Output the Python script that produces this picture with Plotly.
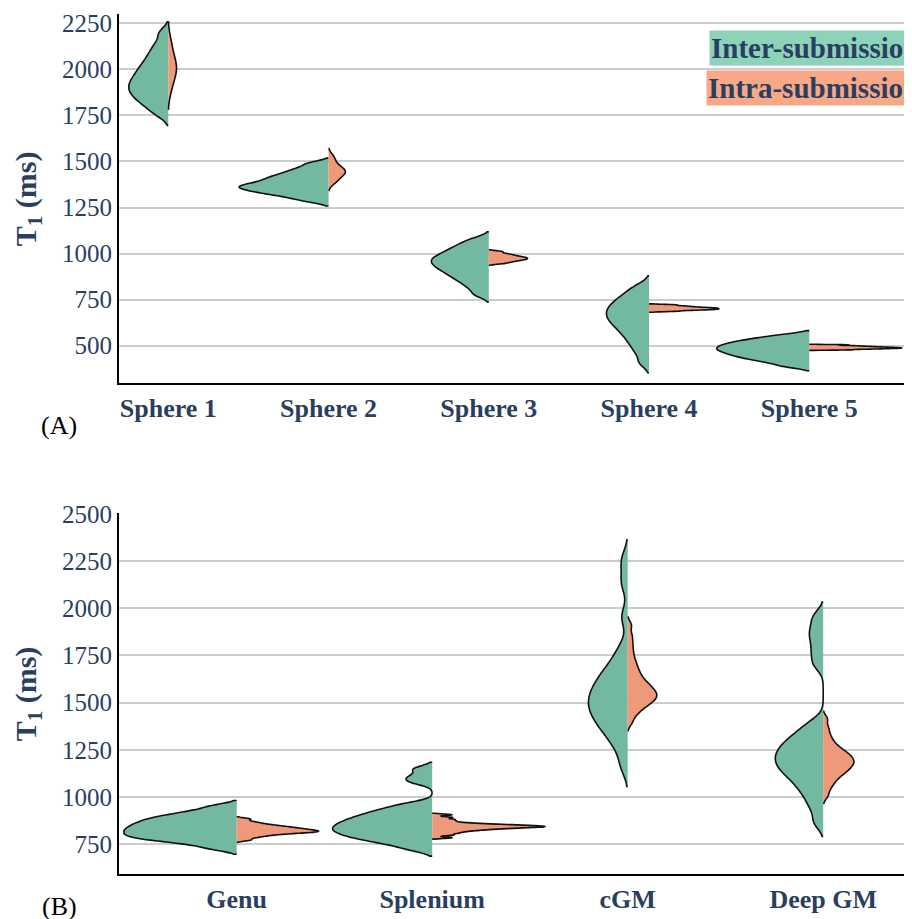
import math
import plotly.graph_objects as go

# ---------------- categories ----------------
spheres = ["Sphere 1", "Sphere 2", "Sphere 3", "Sphere 4", "Sphere 5"]
regions = ["Genu", "Splenium", "cGM", "Deep GM"]

# ---------------- panel A samples: T1 (ms) ----------------
inter_sphere1 = [1756, 1791, 1816, 1836, 1853, 1870, 1885, 1900, 1915, 1930,
                 1946, 1963, 1981, 2000, 2021, 2044, 2071, 2102, 2140, 2198]
intra_sphere1 = [1880, 1920, 1950, 1972, 1993, 2005, 2017, 2033, 2055, 2082, 2118, 2162]

inter_sphere2 = [1286, 1305, 1318, 1328, 1336, 1344, 1351, 1358, 1364, 1370,
                 1377, 1385, 1394, 1403, 1413, 1423, 1435, 1449, 1466, 1490]
intra_sphere2 = [1383, 1402, 1417, 1430, 1440, 1447, 1455, 1465, 1481, 1503, 1530]

inter_sphere3 = [778, 813, 839, 859, 876, 891, 905, 917, 929, 940,
                 950, 961, 971, 981, 993, 1005, 1019, 1035, 1053, 1078]
intra_sphere3 = [947, 955, 961, 966, 970, 974, 978, 982, 987, 993, 1000, 1011]

inter_sphere4 = [409, 463, 500, 530, 555, 577, 597, 614, 630, 645,
                 659, 673, 687, 701, 716, 731, 748, 768, 791, 823]
intra_sphere4 = [687, 692, 695, 697.5, 699.5, 702, 704, 706.5, 709, 712.5, 716.5, 722]

inter_sphere5 = [388, 407, 420, 430, 439, 447, 455, 462, 469, 476,
                 482, 489, 495, 502, 509, 516, 524, 533, 543, 558]
intra_sphere5 = [477.7, 481.2, 483.5, 485.5, 487.1, 488.8, 490.6, 492.5, 494.7, 497.2, 500.3, 504.8]

# ---------------- panel B samples: T1 (ms) ----------------
inter_genu = [727, 750, 763, 773, 781, 788, 795, 802, 809, 816, 823, 830,
              837, 844, 852, 859, 867, 875, 884, 892, 902, 914, 928, 952]
intra_genu = [773, 786, 794, 800, 805, 808.5, 811.5, 814, 816, 818.5, 820.5, 823,
              825.5, 828, 831, 834, 837, 840.5, 844, 848.5, 853.5, 860, 869, 883.5]

inter_splenium = [723, 748, 763, 775, 785, 794, 803, 811, 819, 827, 835, 842, 850,
                  859, 867, 875, 885, 894, 905, 916, 929, 944, 965, 1080, 1108, 1148]
intra_splenium = [785, 799, 808, 815, 821, 825, 829, 832, 834.5, 837, 839, 841, 842.5,
                  844, 845.5, 847.5, 849.5, 851.5, 853.5, 856.5, 860, 865, 873, 881.5, 892, 906]

inter_cgm = [1165, 1255, 1306, 1342, 1371, 1396, 1419, 1441, 1461, 1480, 1499, 1518,
             1538, 1558, 1579, 1601, 1626, 1653, 1684, 1724, 1790, 1954, 2135, 2252]
intra_cgm = [1396, 1431, 1450, 1466, 1478, 1488, 1497, 1505, 1512, 1519, 1526, 1532,
             1539, 1545, 1552, 1558, 1565, 1573, 1581, 1589, 1598, 1607, 1618, 1630,
             1644, 1660, 1676, 1696, 1718, 1745, 1779, 1816, 1856, 1909]

inter_deepgm = [868, 942, 992, 1031, 1062, 1089, 1112, 1132, 1150, 1166, 1183, 1199, 1215,
                1231, 1247, 1265, 1283, 1303, 1326, 1354, 1394, 1705, 1772, 1837, 1891, 1956]
intra_deepgm = [1006, 1041, 1065, 1082, 1097, 1110, 1121, 1130, 1138, 1146, 1153, 1161,
                1167, 1174, 1180, 1186, 1192, 1198, 1205, 1212, 1218, 1226, 1233, 1241,
                1250, 1261, 1275, 1290, 1310, 1336, 1369, 1414]

inter_A = [inter_sphere1, inter_sphere2, inter_sphere3, inter_sphere4, inter_sphere5]
intra_A = [intra_sphere1, intra_sphere2, intra_sphere3, intra_sphere4, intra_sphere5]
inter_B = [inter_genu, inter_splenium, inter_cgm, inter_deepgm]
intra_B = [intra_genu, intra_splenium, intra_cgm, intra_deepgm]

# KDE bandwidths (ms)
bw_inter_A = [30, 14, 20, 28, 12]
bw_intra_A = [48, 20, 5, 2.5, 1.6]
bw_inter_B = [15, 18, 55, 38]
bw_intra_B = [6, 4, 22, 20]

y_ticks_A = [500, 750, 1000, 1250, 1500, 1750, 2000, 2250]
y_ticks_B = [750, 1000, 1250, 1500, 1750, 2000, 2250, 2500]

# ---------------- styling ----------------
GREEN = "#72b9a0"
ORANGE = "#ee9a7a"
LEG_GREEN = "#8cd3ba"
LEG_ORANGE = "#f8a886"
NAVY = "#2a3f5f"
OUTLINE = "#111111"
SERIF = "Liberation Serif"
FULL_WIDTH = 1.155   # widest violin of each group spans this many category units


def kde_peak(samples, bw):
    """Peak of the Gaussian KDE (same estimator the violin trace draws)."""
    lo, hi = min(samples) - 2 * bw, max(samples) + 2 * bw
    n = len(samples)
    norm = n * bw * math.sqrt(2 * math.pi)
    best = 0.0
    steps = 800
    for k in range(steps + 1):
        v = lo + (hi - lo) * k / steps
        d = sum(math.exp(-0.5 * ((v - s) / bw) ** 2) for s in samples) / norm
        best = max(best, d)
    return best


def group_widths(groups, bws, by_count):
    """Scale violins of one group against each other (like a shared scalegroup)."""
    metric = []
    for s, bw in zip(groups, bws):
        m = kde_peak(s, bw)
        if by_count:
            m *= len(s)
        metric.append(m)
    top = max(metric)
    return [FULL_WIDTH * m / top for m in metric]


fig = go.Figure()


def add_violin(cat, samples, side, color, bw, width, xa, ya):
    fig.add_trace(go.Violin(
        x=[cat] * len(samples), y=samples, side=side,
        fillcolor=color, line=dict(color=OUTLINE, width=1.6),
        bandwidth=bw, width=width, spanmode="soft",
        points=False, box_visible=False, meanline_visible=False,
        showlegend=False, xaxis=xa, yaxis=ya, hoverinfo="skip",
    ))


for cats, inter, intra, bwi, bwo, xa, ya, cnt in [
    (spheres, inter_A, intra_A, bw_inter_A, bw_intra_A, "x", "y", False),
    (regions, inter_B, intra_B, bw_inter_B, bw_intra_B, "x2", "y2", True),
]:
    wi = group_widths(inter, bwi, cnt)
    wo = group_widths(intra, bwo, cnt)
    for c, s, bw, w in zip(cats, inter, bwi, wi):
        add_violin(c, s, "negative", GREEN, bw, w, xa, ya)
    for c, s, bw, w in zip(cats, intra, bwo, wo):
        add_violin(c, s, "positive", ORANGE, bw, w, xa, ya)

H = 919.0
Wd = 912.0
OFF = 8.0  # page offset of the figure inside the browser window
x_dom = [(119 - OFF) / Wd, 1.0]
yA_dom = [1 - (383.3 - OFF) / H, 1 - (14 - OFF) / H]
yB_dom = [1 - (874.3 - OFF) / H, 1 - (513.3 - OFF) / H]
plot_w = Wd * (x_dom[1] - x_dom[0])
spA, spB = 160.25, 195.5
leftA = -(168.3 - 119) / spA
leftB = -(236.7 - 119) / spB

xcommon = dict(
    type="category", showgrid=False, zeroline=False, showline=True,
    linecolor="black", linewidth=2, ticks="", automargin=False,
    tickfont=dict(family=SERIF, size=26, color=NAVY, weight="bold"),
)
ycommon = dict(
    showgrid=True, gridcolor="#cccccc", gridwidth=1.5, zeroline=False,
    showline=True, linecolor="black", linewidth=2, ticks="", automargin=False,
    tickfont=dict(family=SERIF, size=25, color=NAVY),
)

fig.update_layout(
    width=912, height=919,
    margin=dict(l=0, r=0, t=0, b=0, autoexpand=False),
    paper_bgcolor="white", plot_bgcolor="white",
    violinmode="overlay",
    showlegend=False,
    xaxis=dict(xcommon, domain=x_dom, anchor="y", categoryorder="array",
               categoryarray=spheres, range=[leftA, leftA + plot_w / spA]),
    yaxis=dict(ycommon, domain=yA_dom, anchor="x", range=[296, 2300.5],
               tickvals=y_ticks_A),
    xaxis2=dict(xcommon, domain=x_dom, anchor="y2", categoryorder="array",
                categoryarray=regions, range=[leftB, leftB + plot_w / spB]),
    yaxis2=dict(ycommon, domain=yB_dom, anchor="x2", range=[591, 2502.5],
                tickvals=y_ticks_B),
)

ann = []
for yc in [(yA_dom[0] + yA_dom[1]) / 2, (yB_dom[0] + yB_dom[1]) / 2]:
    ann.append(dict(text="T<sub>1</sub> (ms)", xref="paper", yref="paper",
                    x=(27.5 - OFF) / Wd, y=yc, xanchor="center", yanchor="middle",
                    textangle=-90, showarrow=False,
                    font=dict(family=SERIF, size=30, color=NAVY, weight="bold")))
ann.append(dict(text="Inter-submission", xref="paper", yref="paper",
                x=(709 - OFF) / Wd, y=1 - (47.5 - OFF) / H, xanchor="left", yanchor="middle",
                showarrow=False, bgcolor=LEG_GREEN, borderpad=1,
                font=dict(family=SERIF, size=29, color=NAVY, weight="bold")))
ann.append(dict(text="Intra-submission", xref="paper", yref="paper",
                x=(706 - OFF) / Wd, y=1 - (88 - OFF) / H, xanchor="left", yanchor="middle",
                showarrow=False, bgcolor=LEG_ORANGE, borderpad=1,
                font=dict(family=SERIF, size=29, color=NAVY, weight="bold")))
ann.append(dict(text="(A)", xref="paper", yref="paper", x=(58.5 - OFF) / Wd,
                y=1 - (426 - OFF) / H, xanchor="center", yanchor="middle", showarrow=False,
                font=dict(family=SERIF, size=26, color="black")))
ann.append(dict(text="(B)", xref="paper", yref="paper", x=(59.5 - OFF) / Wd,
                y=1 - (906 - OFF) / H, xanchor="center", yanchor="middle", showarrow=False,
                font=dict(family=SERIF, size=26, color="black")))
fig.update_layout(annotations=ann)

fig.write_html("out.html")
